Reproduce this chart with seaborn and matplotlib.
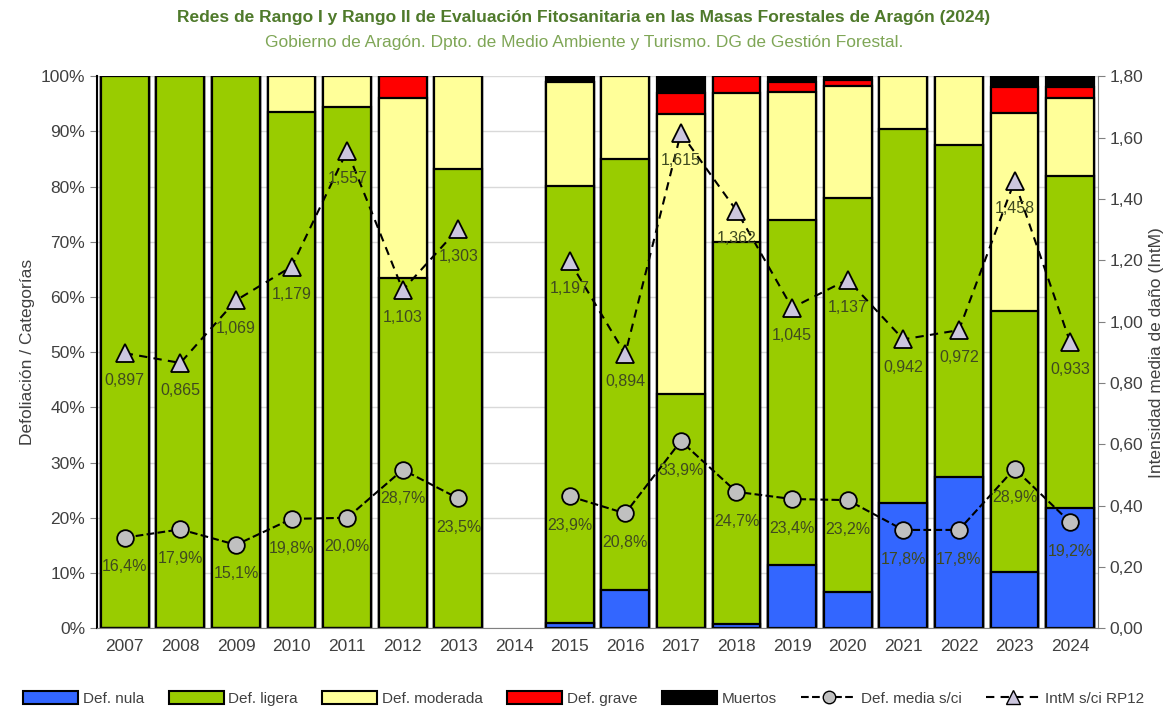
import numpy as np
import pandas as pd
import matplotlib
matplotlib.use('Agg')
import matplotlib.pyplot as plt
from matplotlib.patches import Patch
from matplotlib.lines import Line2D
from matplotlib.ticker import FuncFormatter, MultipleLocator, FixedLocator
import seaborn as sns

# Data (percent of trees per category)
years = [str(y) for y in range(2007, 2025)]
def_nula = [0, 0, 0, 0, 0, 0, 0, np.nan, 0.9, 6.9, 0, 0.8, 11.4, 6.6, 22.6, 27.4, 10.1, 21.7]
def_ligera = [100, 100, 100, 93.5, 94.5, 63.5, 83.2, np.nan, 79.3, 78.1, 42.5, 69.2, 62.6, 71.4, 67.9, 60.2, 47.4, 60.3]
def_moderada = [0, 0, 0, 6.5, 5.5, 32.6, 16.8, np.nan, 18.7, 15.0, 50.6, 27.0, 23.2, 20.2, 9.5, 12.4, 35.9, 14.1]
def_grave = [0, 0, 0, 0, 0, 3.9, 0, np.nan, 0, 0, 3.8, 3.0, 1.7, 1.2, 0, 0, 4.6, 1.9]
muertos = [0, 0, 0, 0, 0, 0, 0, np.nan, 1.1, 0, 3.1, 0, 1.1, 0.6, 0, 0, 2.0, 2.0]
def_media = [16.4, 17.9, 15.1, 19.8, 20.0, 28.7, 23.5, np.nan, 23.9, 20.8, 33.9, 24.7, 23.4, 23.2, 17.8, 17.8, 28.9, 19.2]
intm = [0.897, 0.865, 1.069, 1.179, 1.557, 1.103, 1.303, np.nan, 1.197, 0.894, 1.615, 1.362, 1.045, 1.137, 0.942, 0.972, 1.458, 0.933]

categories = ['Def. nula', 'Def. ligera', 'Def. moderada', 'Def. grave', 'Muertos']
colors = ['#3366FF', '#99CC00', '#FFFF99', '#FF0000', '#000000']

df = pd.DataFrame({'year': years, 'Def. nula': def_nula, 'Def. ligera': def_ligera,
                   'Def. moderada': def_moderada, 'Def. grave': def_grave, 'Muertos': muertos})
cum = df[categories].cumsum(axis=1)
cum['year'] = df['year']

sns.set_style('white')
plt.rcParams['font.family'] = ['Liberation Sans', 'DejaVu Sans']
text_col = '#404040'
lab_col = '#3f4a1f'

fig = plt.figure(figsize=(11.68, 7.13), dpi=100)
ax = fig.add_axes([0.083, 0.119, 0.857, 0.774])

# stacked bars: draw cumulative totals from the top category down
for cat, col in reversed(list(zip(categories, colors))):
    sns.barplot(data=cum, x='year', y=cat, order=years, color=col, saturation=1,
                width=0.86, edgecolor='black', linewidth=1.6, errorbar=None, ax=ax, zorder=2)

x = np.arange(len(years))
ax.plot(x, def_media, linestyle='--', color='black', linewidth=1.5, marker='o',
        markersize=12, markerfacecolor='#C0C0C0', markeredgecolor='black',
        markeredgewidth=1.3, zorder=5)
for xi, v in zip(x, def_media):
    if not np.isnan(v):
        ax.annotate(f'{v:.1f}%'.replace('.', ','), (xi, v), xytext=(0, -21),
                    textcoords='offset points', ha='center', va='center',
                    fontsize=11.5, color=lab_col, zorder=6)

ax.set_xlim(-0.5, len(years) - 0.5)
ax.set_ylim(0, 100)
ax.yaxis.set_major_locator(MultipleLocator(10))
ax.yaxis.set_major_formatter(FuncFormatter(lambda v, p: f'{v:.0f}%'))
ax.grid(axis='y', color='#D9D9D9', linewidth=1, zorder=0)
ax.set_axisbelow(True)
ax.set_xlabel('')
ax.set_ylabel('Defoliación / Categorías', fontsize=12.5, color=text_col)
ax.tick_params(axis='x', which='major', length=0, labelsize=12.5, labelcolor=text_col, pad=8)
ax.xaxis.set_minor_locator(FixedLocator(np.arange(-0.5, len(years), 1)))
ax.tick_params(axis='x', which='minor', length=5, color='#808080', direction='out')
ax.tick_params(axis='y', length=5, labelsize=12.5, labelcolor=text_col, color='#808080', left=True)
for s in ['top', 'right']:
    ax.spines[s].set_visible(False)
ax.spines['left'].set_color('black')
ax.spines['left'].set_linewidth(1.5)
ax.spines['bottom'].set_color('#808080')

ax2 = ax.twinx()
ax2.plot(x, intm, linestyle=(0, (4, 3)), color='black', linewidth=1.5, marker='^',
         markersize=13, markerfacecolor='#CCC6DE', markeredgecolor='black',
         markeredgewidth=1.3, zorder=5)
for xi, v in zip(x, intm):
    if not np.isnan(v):
        ax2.annotate(f'{v:.3f}'.replace('.', ','), (xi, v), xytext=(0, -20),
                     textcoords='offset points', ha='center', va='center',
                     fontsize=11.5, color=lab_col, zorder=6)
ax2.set_ylim(0, 1.8)
ax2.yaxis.set_major_locator(MultipleLocator(0.2))
ax2.yaxis.set_major_formatter(FuncFormatter(lambda v, p: f'{v:.2f}'.replace('.', ',')))
ax2.set_ylabel('Intensidad media de daño (IntM)', fontsize=12.5, color=text_col)
ax2.tick_params(axis='y', length=5, labelsize=12.5, labelcolor=text_col, color='#808080', right=True)
for s in ['top', 'left', 'bottom']:
    ax2.spines[s].set_visible(False)
ax2.spines['right'].set_color('#808080')

fig.text(0.5, 0.975, 'Redes de Rango I y Rango II de Evaluación Fitosanitaria en las Masas Forestales de Aragón (2024)',
         ha='center', va='center', fontsize=12.5, fontweight='bold', color='#4F7A2B')
fig.text(0.5, 0.94, 'Gobierno de Aragón. Dpto. de Medio Ambiente y Turismo. DG de Gestión Forestal.',
         ha='center', va='center', fontsize=12.5, color='#7FA656')

handles = [Patch(facecolor=c, edgecolor='black', linewidth=1.5, label=n) for n, c in zip(categories, colors)]
handles.append(Line2D([], [], linestyle='--', color='black', marker='o', markersize=9,
                      markerfacecolor='#C0C0C0', markeredgecolor='black', label='Def. media s/ci'))
handles.append(Line2D([], [], linestyle=(0, (4, 3)), color='black', marker='^', markersize=10,
                      markerfacecolor='#CCC6DE', markeredgecolor='black', label='IntM s/ci RP12'))
fig.legend(handles=handles, loc='center', bbox_to_anchor=(0.5, 0.02), ncol=7, frameon=False,
           fontsize=11, handlelength=3.6, handleheight=0.9, columnspacing=1.6, handletextpad=0.3,
           labelcolor=text_col)

fig.savefig('out.png', dpi=100)
